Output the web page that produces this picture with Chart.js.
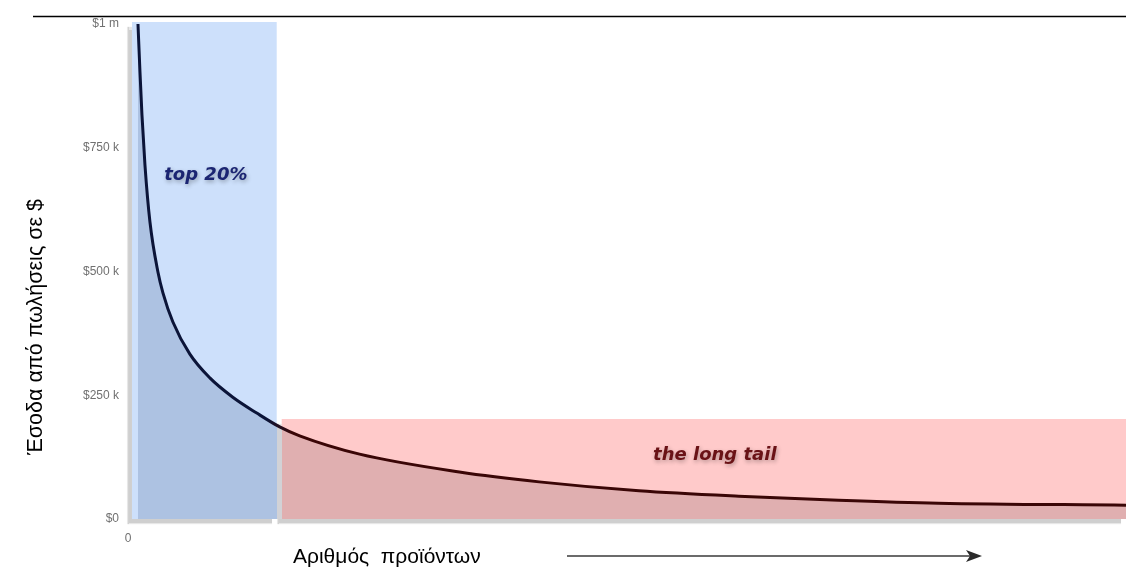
<!DOCTYPE html>
<html lang="el">
<head>
<meta charset="utf-8">
<title>Long tail</title>
<script src="https://cdn.jsdelivr.net/npm/chart.js@4/dist/chart.umd.min.js"></script>
<style>
  html, body { margin: 0; padding: 0; background: #ffffff; }
  canvas { display: block; }
</style>
</head>
<body>
<canvas id="chart" width="1126" height="568"></canvas>
<script>
// Revenue per product, ranked from best seller to the tail (thousands of $)
const productRank = [10, 12, 14, 17, 22, 30, 35, 45, 62, 82, 105, 129, 152, 172, 232, 332, 412, 512, 612, 712, 812, 1000];
const revenueK    = [1000, 903, 816, 715, 600, 499, 457, 398, 333, 285, 246, 214, 186, 168, 131, 95, 75, 57, 46, 38, 32, 28];

// Highlighted bands: [from rank, to rank, top revenue]
const headBand = [4, 149, 1004];
const tailBand = [154, 1000, 202];

// Axis ticks
const yTickValues = [0, 250, 500, 750, 1000];
const yTickLabels = ['$0', '$250 k', '$500 k', '$750 k', '$1 m'];
const xTickValues = [0];
const xTickLabels = ['0'];

// Texts
const headLabel = 'top 20%';
const tailLabel = 'the long tail';
const yTitle = 'Έσοδα από πωλήσεις σε $';
const xTitle = 'Αριθμός  προϊόντων';
const headLabelAt = [78, 695];
const tailLabelAt = [588, 129];

function bandGradient(chart, cHead, cGap, cTail) {
  const { ctx, chartArea, scales } = chart;
  if (!chartArea || !scales.x) return cHead;
  const x = scales.x;
  const w = chartArea.right - chartArea.left;
  const f = v => Math.min(1, Math.max(0, (x.getPixelForValue(v) - chartArea.left) / w));
  const g = ctx.createLinearGradient(chartArea.left, 0, chartArea.right, 0);
  g.addColorStop(0, cHead);
  g.addColorStop(f(headBand[1]), cHead);
  g.addColorStop(f(headBand[1]), cGap);
  g.addColorStop(f(tailBand[0]), cGap);
  g.addColorStop(f(tailBand[0]), cTail);
  g.addColorStop(1, cTail);
  return g;
}

function lineGradient(chart) {
  const { ctx, chartArea, scales } = chart;
  if (!chartArea || !scales.x) return '#0b1438';
  const x = scales.x;
  const w = chartArea.right - chartArea.left;
  const f = v => Math.min(1, Math.max(0, (x.getPixelForValue(v) - chartArea.left) / w));
  const g = ctx.createLinearGradient(chartArea.left, 0, chartArea.right, 0);
  g.addColorStop(0, '#0b1438');
  g.addColorStop(f(headBand[1] - 10), '#0b1438');
  g.addColorStop(f(tailBand[0] + 10), '#3a0606');
  g.addColorStop(1, '#3a0606');
  return g;
}

// Shaded bands with a drop shadow, drawn behind the curve
const bandsPlugin = {
  id: 'bands',
  beforeDatasetsDraw(chart) {
    const { ctx, scales: { x, y } } = chart;
    const bands = [
      [headBand, '#cde0fb'],
      [tailBand, '#ffcaca']
    ];
    ctx.save();
    ctx.shadowColor = 'rgba(0,0,0,0.19)';
    ctx.shadowOffsetX = -5;
    ctx.shadowOffsetY = 5;
    ctx.shadowBlur = 1;
    for (const [b, color] of bands) {
      const x0 = x.getPixelForValue(b[0]);
      const x1 = x.getPixelForValue(b[1]);
      const yTop = y.getPixelForValue(b[2]);
      const yBot = y.getPixelForValue(0);
      ctx.fillStyle = color;
      ctx.fillRect(x0, yTop, x1 - x0, yBot - yTop);
    }
    ctx.restore();
  }
};

// Titles, band captions, rule and arrow
const decorPlugin = {
  id: 'decor',
  afterDraw(chart) {
    const { ctx, scales: { x, y } } = chart;
    ctx.save();

    // top rule
    ctx.strokeStyle = '#000000';
    ctx.lineWidth = 1.5;
    ctx.beginPath();
    ctx.moveTo(33, 16.5);
    ctx.lineTo(1126, 16.5);
    ctx.stroke();

    // band captions
    ctx.font = 'italic bold 18px "DejaVu Sans"';
    ctx.textAlign = 'center';
    ctx.textBaseline = 'middle';
    ctx.shadowColor = 'rgba(0,0,0,0.3)';
    ctx.shadowBlur = 4;
    ctx.shadowOffsetX = 1;
    ctx.shadowOffsetY = 2;
    ctx.fillStyle = '#1b2572';
    ctx.fillText(headLabel, x.getPixelForValue(headLabelAt[0]), y.getPixelForValue(headLabelAt[1]));
    ctx.fillStyle = '#6a1216';
    ctx.fillText(tailLabel, x.getPixelForValue(tailLabelAt[0]), y.getPixelForValue(tailLabelAt[1]));
    ctx.shadowColor = 'transparent';
    ctx.shadowBlur = 0;
    ctx.shadowOffsetX = 0;
    ctx.shadowOffsetY = 0;

    // axis titles
    ctx.fillStyle = '#000000';
    ctx.font = '21.5px "Liberation Sans"';
    ctx.textAlign = 'center';
    ctx.textBaseline = 'middle';
    ctx.save();
    ctx.translate(36, 327);
    ctx.rotate(-Math.PI / 2);
    ctx.fillText(yTitle, 0, 0);
    ctx.restore();

    ctx.font = '21px "Liberation Sans"';
    ctx.textAlign = 'left';
    ctx.fillText(xTitle, 293, 557);

    // direction arrow
    ctx.strokeStyle = '#3a3a3a';
    ctx.fillStyle = '#2a2a2a';
    ctx.lineWidth = 1.5;
    ctx.beginPath();
    ctx.moveTo(567, 556);
    ctx.lineTo(972, 556);
    ctx.stroke();
    ctx.beginPath();
    ctx.moveTo(982, 556);
    ctx.lineTo(966, 550);
    ctx.lineTo(970, 556);
    ctx.lineTo(966, 562);
    ctx.closePath();
    ctx.fill();

    ctx.restore();
  }
};

new Chart(document.getElementById('chart'), {
  type: 'line',
  data: {
    datasets: [{
      data: productRank.map((r, i) => ({ x: r, y: revenueK[i] })),
      borderColor: ctx => lineGradient(ctx.chart),
      borderWidth: 3,
      pointRadius: 0,
      cubicInterpolationMode: 'monotone',
      fill: 'origin',
      backgroundColor: ctx => bandGradient(ctx.chart, '#adc2e2', '#d2d2d6', '#e0afb0')
    }]
  },
  options: {
    responsive: false,
    animation: false,
    devicePixelRatio: 1,
    layout: { padding: { top: 24, left: 0, right: 0, bottom: 0 } },
    plugins: {
      legend: { display: false },
      tooltip: { enabled: false }
    },
    scales: {
      x: {
        type: 'linear',
        min: 0,
        max: 1000,
        grid: { display: false, drawTicks: false },
        border: { display: false },
        afterBuildTicks: s => { s.ticks = xTickValues.map(v => ({ value: v })); },
        afterFit: s => { s.height = 49; },
        ticks: {
          padding: 12,
          maxRotation: 0,
          color: '#707070',
          font: { family: 'Liberation Sans', size: 12 },
          callback: (v, i) => xTickLabels[i]
        }
      },
      y: {
        min: 0,
        max: 1000,
        grid: { display: false, drawTicks: false },
        border: { display: false },
        afterBuildTicks: s => { s.ticks = yTickValues.map(v => ({ value: v })); },
        afterFit: s => { s.width = 128; },
        ticks: {
          padding: 9,
          color: '#707070',
          font: { family: 'Liberation Sans', size: 12 },
          callback: (v, i) => yTickLabels[i]
        }
      }
    }
  },
  plugins: [bandsPlugin, decorPlugin]
});
</script>
</body>
</html>
